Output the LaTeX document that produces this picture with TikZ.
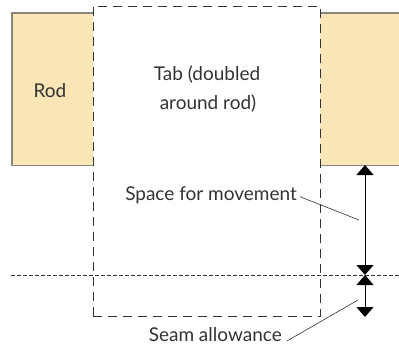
\documentclass[tikz,border=0pt]{standalone}
\usepackage{fontspec}
\setmainfont{Lato}
\usepackage{xcolor}
\usetikzlibrary{arrows.meta, positioning}
\definecolor{rodfill}{HTML}{FBE6B8}
\definecolor{rodline}{HTML}{86867A}
\definecolor{inkgray}{HTML}{333333}

\begin{document}
\begin{tikzpicture}[
  x=1pt, y=-1pt,
  every node/.style={text=inkgray, font=\fontsize{19}{28}\selectfont},
  rod/.style={rectangle, fill=rodfill, draw=none, inner sep=0pt, anchor=north west},
  rodedge/.style={draw=rodline, line width=1.3pt},
  tabline/.style={draw=inkgray, line width=0.8pt, dash pattern=on 9pt off 6pt},
  seamline/.style={draw=inkgray, line width=0.7pt, dash pattern=on 3.5pt off 2.5pt},
  leader/.style={draw=inkgray, line width=0.6pt},
  arrow/.style={draw=black, line width=1pt, {Triangle[width=17pt, length=10pt]}-{Triangle[width=17pt, length=10pt]}}
]
\useasboundingbox (0,0) rectangle (399,345);

% rods
\node (rodL) [rod, minimum width=81pt, minimum height=152pt] at (12,13) {};
\node (rodR) [rod, minimum width=79pt, minimum height=152pt] at (320,13) {};
\draw [rodedge] (rodL.north east) -- (rodL.north west) -- (rodL.south west) -- (rodL.south east);
\draw [rodedge] (rodR.north west) -- (rodR.north east);
\draw [rodedge] (rodR.south west) -- (rodR.south east);
\node [anchor=base] at (50,97) {Rod};

% tab
\node (tab) [rectangle, tabline, inner sep=0pt, anchor=north west, minimum width=227pt, minimum height=310pt] at (93,6) {};
\node [anchor=base] at (207,81) {Tab (doubled};
\node [anchor=base] at (208,109) {around rod)};

% seam line
\coordinate (seamL) at (11,275);
\coordinate (seamR) at (399,275);
\draw [seamline] (seamL) -- (seamR);

% dimensions
\coordinate (mvTop) at (365,165);
\coordinate (mvBot) at (365,275);
\coordinate (seamBot) at (365,317);
\draw [arrow] (mvTop) -- (mvBot);
\draw [arrow] (mvBot) -- (seamBot);

% labels
\node (space) [anchor=base east, inner sep=1pt] at (298,200) {Space for movement};
\node (seam) [anchor=base east, inner sep=1pt] at (283,341) {Seam allowance};
\coordinate (spaceTip) at (359,220);
\coordinate (seamTip) at (358,300);
\draw [leader] (space.east) ++(2,2) -- (spaceTip);
\draw [leader] (seam.base east) ++(4,0) -- (seamTip);
\end{tikzpicture}
\end{document}
